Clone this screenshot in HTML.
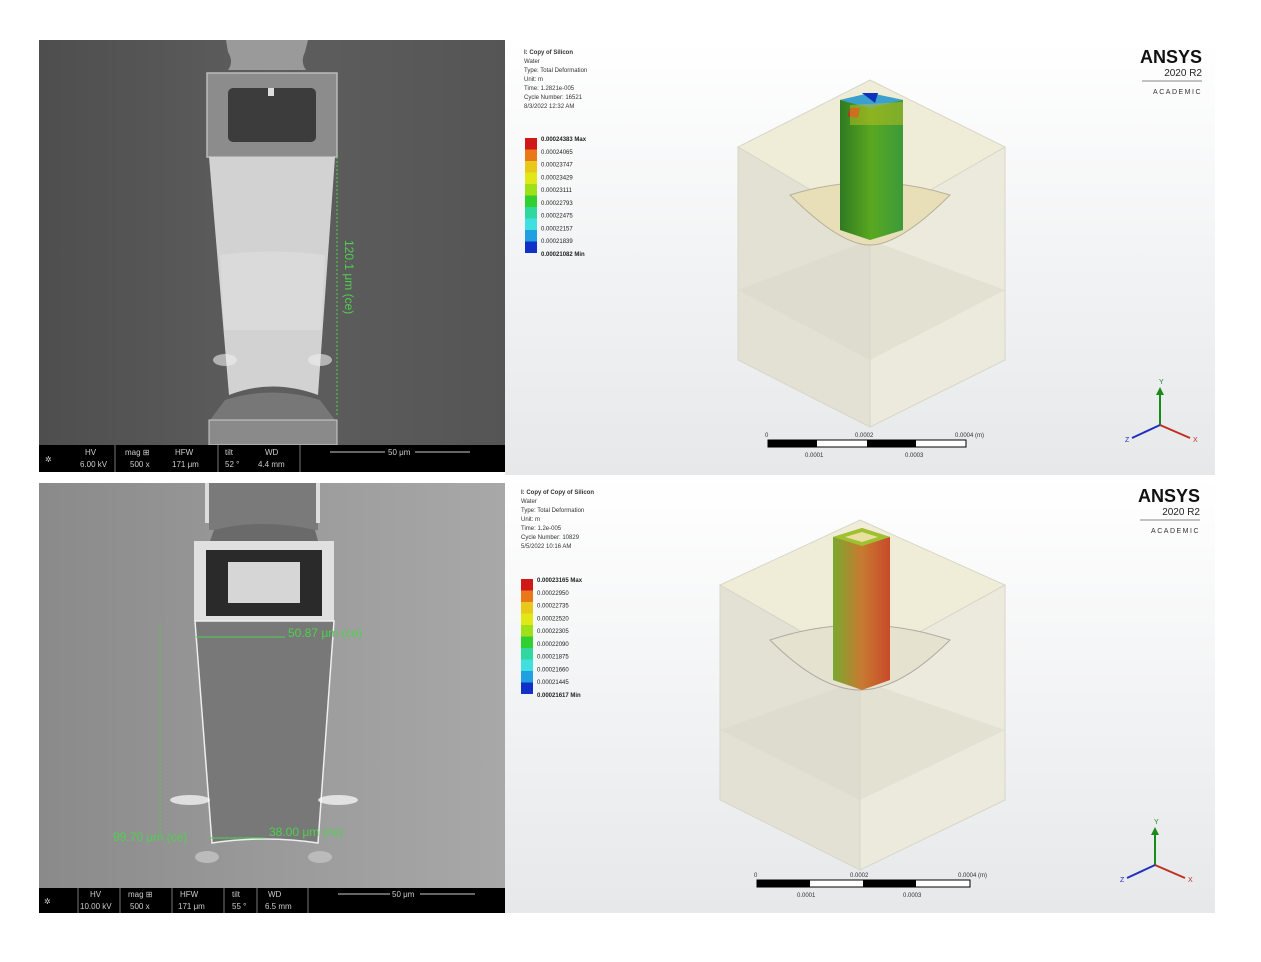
<!DOCTYPE html>
<html><head><meta charset="utf-8"><style>
html,body{margin:0;padding:0;background:#fff;}
svg{display:block;font-family:"Liberation Sans",sans-serif;}
</style></head><body>
<svg width="1261" height="962" viewBox="0 0 1261 962">
<defs>
<linearGradient id="bg1" x1="0" x2="1"><stop offset="0" stop-color="#4e4e4e"/><stop offset="0.5" stop-color="#5e5e5e"/><stop offset="1" stop-color="#555"/></linearGradient>
<linearGradient id="bg2" x1="0" x2="1"><stop offset="0" stop-color="#8a8a8a"/><stop offset="0.5" stop-color="#9a9a9a"/><stop offset="1" stop-color="#a8a8a8"/></linearGradient>
<linearGradient id="an" x1="0" y1="0" x2="0" y2="1"><stop offset="0" stop-color="#ffffff"/><stop offset="1" stop-color="#e6e8ea"/></linearGradient>
<linearGradient id="pil" x1="0" x2="1"><stop offset="0" stop-color="#2f7a22"/><stop offset="0.5" stop-color="#5aa820"/><stop offset="1" stop-color="#3b9a3a"/></linearGradient>
<linearGradient id="pil2" x1="0" x2="1"><stop offset="0" stop-color="#7aa830"/><stop offset="0.5" stop-color="#c87a30"/><stop offset="1" stop-color="#c84a2a"/></linearGradient>
</defs>

<!-- Top-left SEM -->
<g>
<rect x="39" y="40" width="466" height="405" fill="url(#bg1)"/>
<path d="M226 40 L308 40 L305 52 Q300 62 306 70 L228 70 Q234 62 228 52Z" fill="#9a9a9a"/>
<rect x="207" y="73" width="130" height="84" fill="#8c8c8c" stroke="#bbb" stroke-width="1.5"/>
<rect x="228" y="88" width="88" height="54" rx="5" fill="#3c3c3c"/>
<rect x="268" y="88" width="6" height="8" fill="#ddd"/>
<path d="M209 157 L335 157 L318 395 Q272 378 229 395Z" fill="#d2d2d2"/>
<path d="M220 255 Q272 248 325 255 L321 330 L224 330Z" fill="#e0e0e0" opacity="0.6"/>
<ellipse cx="225" cy="360" rx="12" ry="6" fill="#eee" opacity="0.6"/>
<ellipse cx="320" cy="360" rx="12" ry="6" fill="#eee" opacity="0.6"/>
<path d="M225 400 Q272 385 320 400 L335 420 L210 420Z" fill="#777"/>
<rect x="209" y="420" width="128" height="25" fill="#8a8a8a" stroke="#ccc"/>
<line x1="337" y1="157" x2="337" y2="415" stroke="#4fd04f" stroke-dasharray="2,2"/>
<text x="345" y="240" fill="#4fd04f" font-size="12" transform="rotate(90 345 240)">120.1 μm (ce)</text>
</g>
<g font-size="8" fill="#ccc">
<rect x="39" y="445" width="466" height="27" fill="#000"/>
<g stroke="#777"><line x1="115" y1="445" x2="115" y2="472"/><line x1="218" y1="445" x2="218" y2="472"/><line x1="300" y1="445" x2="300" y2="472"/></g>
<text x="45" y="462">✲</text><text x="85" y="455">HV</text><text x="80" y="467">6.00 kV</text>
<text x="125" y="455">mag ⊞</text><text x="175" y="455">HFW</text><text x="130" y="467">500 x</text><text x="172" y="467">171 μm</text>
<text x="225" y="455">tilt</text><text x="265" y="455">WD</text><text x="225" y="467">52 °</text><text x="258" y="467">4.4 mm</text>
<line x1="330" y1="452" x2="385" y2="452" stroke="#ccc"/><text x="388" y="455">50 μm</text><line x1="415" y1="452" x2="470" y2="452" stroke="#ccc"/>
</g>

<!-- Top-right ANSYS -->
<g>
<rect x="505" y="40" width="710" height="435" fill="url(#an)"/>
<g font-size="6" fill="#333">
<text x="524" y="54" font-weight="bold">I: Copy of Silicon</text>
<text x="524" y="63">Water</text><text x="524" y="72">Type: Total Deformation</text><text x="524" y="81">Unit: m</text>
<text x="524" y="90">Time: 1.2821e-005</text><text x="524" y="99">Cycle Number: 16521</text><text x="524" y="108">8/3/2022 12:32 AM</text>
</g>
<g id="leg1"></g>
<polygon points="870,80 1005,147 870,225 738,147" fill="#efecd8" stroke="#d8d6c8"/>
<polygon points="738,147 870,225 870,427 738,360" fill="#e2e1d4" stroke="#d8d6c8"/>
<polygon points="870,225 1005,147 1005,360 870,427" fill="#eceadc" stroke="#d8d6c8"/>
<polygon points="738,290 870,240 1005,290 870,360" fill="#d8d8c8" opacity="0.5"/>
<path d="M790 195 Q870 170 950 195 Q900 245 870 245 Q840 245 790 195Z" fill="#e8dfb8" stroke="#b8b09a"/>
<polygon points="840,100 870,93 903,100 903,230 870,240 840,230" fill="url(#pil)"/>
<polygon points="840,100 870,93 903,100 870,108" fill="#3aa0d0"/>
<polygon points="862,93 878,93 875,103" fill="#1030c0"/>
<polygon points="850,108 860,108 858,118 848,116" fill="#d82020"/>
<path d="M850 105 L903 102 L903 125 L850 125Z" fill="#c0c020" opacity="0.5"/>
<g font-size="6" fill="#333">
<rect x="768" y="440" width="198" height="7" fill="#fff" stroke="#000"/>
<rect x="768" y="440" width="49" height="7" fill="#000"/><rect x="867" y="440" width="49" height="7" fill="#000"/>
<text x="765" y="437">0</text><text x="855" y="437">0.0002</text><text x="955" y="437">0.0004 (m)</text>
<text x="805" y="457">0.0001</text><text x="905" y="457">0.0003</text>
</g>
<g>
<line x1="1160" y1="425" x2="1160" y2="393" stroke="#1a8a1a" stroke-width="2"/><polygon points="1156,395 1164,395 1160,387" fill="#1a8a1a"/>
<line x1="1160" y1="425" x2="1190" y2="438" stroke="#c03020" stroke-width="2"/>
<line x1="1160" y1="425" x2="1132" y2="438" stroke="#2030c0" stroke-width="2"/>
<text x="1159" y="384" font-size="7" fill="#1a8a1a">Y</text><text x="1193" y="442" font-size="7" fill="#c03020">X</text><text x="1125" y="442" font-size="7" fill="#2030c0">Z</text>
</g>
<g>
<text x="1202" y="63" text-anchor="end" font-size="18" font-weight="bold" fill="#111">ANSYS</text>
<text x="1202" y="76" text-anchor="end" font-size="10" fill="#222">2020 R2</text>
<line x1="1142" y1="81" x2="1202" y2="81" stroke="#888"/>
<text x="1202" y="94" text-anchor="end" font-size="7" letter-spacing="1.5" fill="#333">ACADEMIC</text>
</g>
</g>

<!-- Bottom-left SEM -->
<g>
<rect x="39" y="483" width="466" height="405" fill="url(#bg2)"/>
<rect x="209" y="483" width="109" height="47" fill="#7a7a7a"/>
<rect x="205" y="483" width="4" height="40" fill="#ddd"/><rect x="316" y="483" width="4" height="40" fill="#ddd"/>
<path d="M214 530 Q262 518 315 530 L318 541 L210 541Z" fill="#6a6a6a"/>
<rect x="194" y="541" width="140" height="80" fill="#e0e0e0"/>
<rect x="206" y="550" width="116" height="66" fill="#2a2a2a"/>
<rect x="228" y="562" width="72" height="41" fill="#d6d6d6"/>
<path d="M195 621 L334 621 L318 843 Q265 835 212 843Z" fill="#787878" stroke="#eee" stroke-width="1.5"/>
<ellipse cx="190" cy="800" rx="20" ry="5" fill="#fff" opacity="0.7"/>
<ellipse cx="338" cy="800" rx="20" ry="5" fill="#fff" opacity="0.7"/>
<ellipse cx="207" cy="857" rx="12" ry="6" fill="#bbb"/><ellipse cx="320" cy="857" rx="12" ry="6" fill="#bbb"/>
<line x1="160" y1="623" x2="160" y2="835" stroke="#4fd04f" stroke-dasharray="2,2"/>
<line x1="196" y1="637" x2="285" y2="637" stroke="#4fd04f"/>
<line x1="210" y1="838" x2="265" y2="838" stroke="#4fd04f"/>
<text x="288" y="637" fill="#4fd04f" font-size="12">50.87 μm (ce)</text>
<text x="113" y="841" fill="#4fd04f" font-size="12">99.70 μm (ce)</text>
<text x="269" y="836" fill="#4fd04f" font-size="12">38.00 μm (ce)</text>
</g>
<g font-size="8" fill="#ccc">
<rect x="39" y="888" width="466" height="25" fill="#000"/>
<g stroke="#777"><line x1="78" y1="888" x2="78" y2="913"/><line x1="120" y1="888" x2="120" y2="913"/><line x1="172" y1="888" x2="172" y2="913"/><line x1="224" y1="888" x2="224" y2="913"/><line x1="257" y1="888" x2="257" y2="913"/><line x1="308" y1="888" x2="308" y2="913"/></g>
<text x="44" y="904">✲</text><text x="90" y="897">HV</text><text x="80" y="909">10.00 kV</text>
<text x="128" y="897">mag ⊞</text><text x="180" y="897">HFW</text><text x="130" y="909">500 x</text><text x="178" y="909">171 μm</text>
<text x="232" y="897">tilt</text><text x="268" y="897">WD</text><text x="232" y="909">55 °</text><text x="265" y="909">6.5 mm</text>
<line x1="338" y1="894" x2="390" y2="894" stroke="#ccc"/><text x="392" y="897">50 μm</text><line x1="420" y1="894" x2="475" y2="894" stroke="#ccc"/>
</g>

<!-- Bottom-right ANSYS -->
<g>
<rect x="505" y="478" width="710" height="435" fill="url(#an)"/>
<g font-size="6" fill="#333">
<text x="521" y="494" font-weight="bold">I: Copy of Copy of Silicon</text>
<text x="521" y="503">Water</text><text x="521" y="512">Type: Total Deformation</text><text x="521" y="521">Unit: m</text>
<text x="521" y="530">Time: 1.2e-005</text><text x="521" y="539">Cycle Number: 10829</text><text x="521" y="548">5/5/2022 10:16 AM</text>
</g>
<g id="leg2"></g>
<polygon points="860,520 1005,585 860,665 720,585" fill="#efecd8" stroke="#d8d6c8"/>
<polygon points="720,585 860,665 860,870 720,800" fill="#e2e1d4" stroke="#d8d6c8"/>
<polygon points="860,665 1005,585 1005,800 860,870" fill="#eceadc" stroke="#d8d6c8"/>
<polygon points="720,730 860,680 1005,730 860,800" fill="#d8d8c8" opacity="0.5"/>
<path d="M770 640 Q860 610 950 640 Q900 690 860 690 Q820 690 770 640Z" fill="#e6e2d0" stroke="#b0aaa0"/>
<polygon points="833,537 862,528 890,537 890,680 862,690 833,680" fill="url(#pil2)"/>
<polygon points="833,537 862,528 890,537 862,546" fill="#a0c030"/>
<polygon points="845,537 862,532 878,537 862,542" fill="#e8e0a0"/>
<g font-size="6" fill="#333">
<rect x="757" y="880" width="213" height="7" fill="#fff" stroke="#000"/>
<rect x="757" y="880" width="53" height="7" fill="#000"/><rect x="863" y="880" width="53" height="7" fill="#000"/>
<text x="754" y="877">0</text><text x="850" y="877">0.0002</text><text x="958" y="877">0.0004 (m)</text>
<text x="797" y="897">0.0001</text><text x="903" y="897">0.0003</text>
</g>
<g>
<line x1="1155" y1="865" x2="1155" y2="833" stroke="#1a8a1a" stroke-width="2"/><polygon points="1151,835 1159,835 1155,827" fill="#1a8a1a"/>
<line x1="1155" y1="865" x2="1185" y2="878" stroke="#c03020" stroke-width="2"/>
<line x1="1155" y1="865" x2="1127" y2="878" stroke="#2030c0" stroke-width="2"/>
<text x="1154" y="824" font-size="7" fill="#1a8a1a">Y</text><text x="1188" y="882" font-size="7" fill="#c03020">X</text><text x="1120" y="882" font-size="7" fill="#2030c0">Z</text>
</g>
<g>
<text x="1200" y="502" text-anchor="end" font-size="18" font-weight="bold" fill="#111">ANSYS</text>
<text x="1200" y="515" text-anchor="end" font-size="10" fill="#222">2020 R2</text>
<line x1="1140" y1="520" x2="1200" y2="520" stroke="#888"/>
<text x="1200" y="533" text-anchor="end" font-size="7" letter-spacing="1.5" fill="#333">ACADEMIC</text>
</g>
</g>
</svg>
<script>
const legendColors = ["#d01818","#e87818","#e8c818","#e0e818","#a0e018","#30d030","#30d8a0","#40e0e0","#20a0e0","#1030c8"];
const legendLabelsTop = ["0.00024383 Max","0.00024065","0.00023747","0.00023429","0.00023111","0.00022793","0.00022475","0.00022157","0.00021839","0.00021082 Min"];
const legendLabelsBottom = ["0.00023165 Max","0.00022950","0.00022735","0.00022520","0.00022305","0.00022090","0.00021875","0.00021660","0.00021445","0.00021617 Min"];
const NS = "http://www.w3.org/2000/svg";
function buildLegend(id, x, y, labels){
  const g = document.getElementById(id);
  const h = 11.5;
  legendColors.forEach((c,i)=>{
    const r = document.createElementNS(NS,"rect");
    r.setAttribute("x",x); r.setAttribute("y",y+i*h); r.setAttribute("width",12); r.setAttribute("height",h);
    r.setAttribute("fill",c);
    
    
    g.appendChild(r);
  });
  labels.forEach((l,i)=>{
    const t = document.createElementNS(NS,"text");
    t.setAttribute("x",x+16); t.setAttribute("y",y+i*(h*10/9)+3);
    t.setAttribute("font-size","6"); t.setAttribute("fill","#222");
    if(i===0||i===labels.length-1) t.setAttribute("font-weight","bold");
    t.textContent = l;
    
    
    g.appendChild(t);
  });
}
buildLegend("leg1", 525, 138, legendLabelsTop);
buildLegend("leg2", 521, 579, legendLabelsBottom);
</script>
</body></html>
